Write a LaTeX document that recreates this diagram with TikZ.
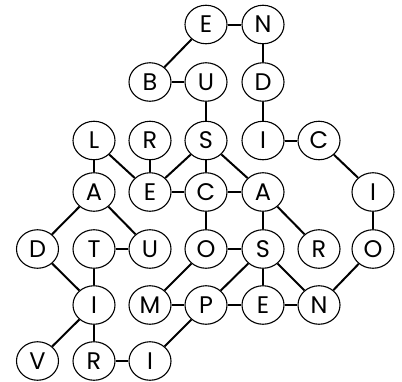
\documentclass[tikz,border=0pt]{standalone}
\usepackage{fontspec}
\setmainfont{Poppins}
\usetikzlibrary{shapes.geometric}
\begin{document}
\begin{tikzpicture}[x=1pt,y=-1pt,
  letter/.style={ellipse,draw=black,line width=1.1pt,fill=white,minimum width=42pt,minimum height=38.5pt,inner sep=0pt,font=\fontsize{24}{24}\selectfont},
  link/.style={line width=2pt,black}]
\useasboundingbox (0,0) rectangle (402,381);
\def\ca{37.5}\def\cb{94}\def\cc{150}\def\cd{206}\def\ce{263}\def\cf{319}\def\cg{373}
\def\ra{24.5}\def\rb{82}\def\rc{140.5}\def\rd{192}\def\re{249}\def\rf{305}\def\rg{361}
\node[letter] (E1) at (\cd,\ra) {E};
\node[letter] (N1) at (\ce,\ra) {N};
\node[letter] (B2) at (\cc,\rb) {B};
\node[letter] (U2) at (\cd,\rb) {U};
\node[letter] (D2) at (\ce,\rb) {D};
\node[letter] (L3) at (\cb,\rc) {L};
\node[letter] (R3) at (\cc,\rc) {R};
\node[letter] (S3) at (\cd,\rc) {S};
\node[letter] (I3) at (\ce,\rc) {I};
\node[letter] (C3) at (\cf,\rc) {C};
\node[letter] (A4) at (\cb,\rd) {A};
\node[letter] (E4) at (\cc,\rd) {E};
\node[letter] (C4) at (\cd,\rd) {C};
\node[letter] (A4b) at (\ce,\rd) {A};
\node[letter] (I4) at (\cg,\rd) {I};
\node[letter] (D5) at (\ca,\re) {D};
\node[letter] (T5) at (\cb,\re) {T};
\node[letter] (U5) at (\cc,\re) {U};
\node[letter] (O5) at (\cd,\re) {O};
\node[letter] (S5) at (\ce,\re) {S};
\node[letter] (R5) at (\cf,\re) {R};
\node[letter] (O5b) at (\cg,\re) {O};
\node[letter] (I6) at (\cb,\rf) {I};
\node[letter] (M6) at (\cc,\rf) {M};
\node[letter] (P6) at (\cd,\rf) {P};
\node[letter] (E6) at (\ce,\rf) {E};
\node[letter] (N6) at (\cf,\rf) {N};
\node[letter] (V7) at (\ca,\rg) {V};
\node[letter] (R7) at (\cb,\rg) {R};
\node[letter] (I7) at (\cc,\rg) {I};
\foreach \a/\b in {E1/N1,E1/B2,N1/D2,B2/U2,U2/S3,D2/I3,I3/C3,C3/I4,I4/O5b,O5b/N6,
  L3/A4,L3/E4,R3/E4,S3/E4,S3/C4,S3/A4b,E4/C4,C4/A4b,A4/D5,A4/U5,C4/O5,A4b/S5,A4b/R5,
  T5/U5,O5/S5,O5/M6,S5/P6,S5/E6,S5/N6,M6/P6,P6/E6,E6/N6,
  D5/I6,T5/I6,I6/V7,I6/R7,R7/I7,I7/P6}
  \draw[link] (\a) -- (\b);
\end{tikzpicture}
\end{document}
